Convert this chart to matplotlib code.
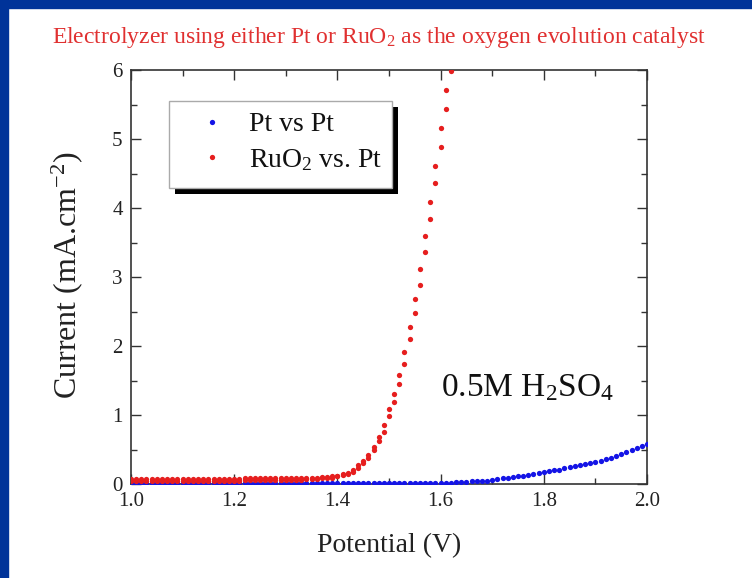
import matplotlib
matplotlib.use('Agg')
import matplotlib.pyplot as plt
from matplotlib.patches import Rectangle
from matplotlib.lines import Line2D
from matplotlib.ticker import MultipleLocator

plt.rcParams['font.family'] = ['Liberation Serif', 'DejaVu Serif']
plt.rcParams['mathtext.fontset'] = 'custom'
plt.rcParams['mathtext.rm'] = 'Liberation Serif'
plt.rcParams['mathtext.it'] = 'Liberation Serif:italic'
plt.rcParams['mathtext.bf'] = 'Liberation Serif:bold'

# ---------------- data ----------------
blue_potential = [
    1.00, 1.01, 1.02, 1.03, 1.04, 1.05, 1.06, 1.07, 1.08, 1.09,
    1.10, 1.11, 1.12, 1.13, 1.14, 1.15, 1.16, 1.17, 1.18, 1.19,
    1.20, 1.21, 1.22, 1.23, 1.24, 1.25, 1.26, 1.27, 1.28, 1.29,
    1.30, 1.31, 1.32, 1.33, 1.34, 1.35, 1.36, 1.37, 1.38, 1.39,
    1.40, 1.41, 1.42, 1.43, 1.44, 1.45, 1.46, 1.47, 1.48, 1.49,
    1.50, 1.51, 1.52, 1.53, 1.54, 1.55, 1.56, 1.57, 1.58, 1.59,
    1.60, 1.61, 1.62, 1.63, 1.64, 1.65, 1.66, 1.67, 1.68, 1.69,
    1.70, 1.71, 1.72, 1.73, 1.74, 1.75, 1.76, 1.77, 1.78, 1.79,
    1.80, 1.81, 1.82, 1.83, 1.84, 1.85, 1.86, 1.87, 1.88, 1.89,
    1.90, 1.91, 1.92, 1.93, 1.94, 1.95, 1.96, 1.97, 1.98, 1.99,
    2.00,
]
blue_current = [
    0.01, 0.01, 0.01, 0.01, 0.01, 0.01, 0.01, 0.01, 0.01, 0.01,
    0.01, 0.01, 0.01, 0.01, 0.01, 0.01, 0.01, 0.01, 0.01, 0.01,
    0.01, 0.01, 0.01, 0.01, 0.01, 0.01, 0.01, 0.01, 0.01, 0.01,
    0.01, 0.01, 0.01, 0.01, 0.01, 0.01, 0.01, 0.01, 0.01, 0.01,
    0.01, 0.01, 0.01, 0.01, 0.01, 0.01, 0.01, 0.01, 0.01, 0.01,
    0.01, 0.01, 0.01, 0.01, 0.01, 0.02, 0.02, 0.02, 0.02, 0.02,
    0.02, 0.02, 0.02, 0.03, 0.03, 0.03, 0.04, 0.04, 0.05, 0.05,
    0.06, 0.07, 0.08, 0.09, 0.10, 0.11, 0.12, 0.13, 0.15, 0.16,
    0.17, 0.19, 0.20, 0.21, 0.23, 0.24, 0.26, 0.27, 0.29, 0.31,
    0.32, 0.34, 0.36, 0.38, 0.40, 0.43, 0.46, 0.49, 0.52, 0.55,
    0.58,
]

red_potential = [
    1.00, 1.01, 1.02, 1.03, 1.04, 1.05, 1.06, 1.07, 1.08, 1.09,
    1.10, 1.11, 1.12, 1.13, 1.14, 1.15, 1.16, 1.17, 1.18, 1.19,
    1.20, 1.21, 1.22, 1.23, 1.24, 1.25, 1.26, 1.27, 1.28, 1.29,
    1.30, 1.31, 1.32, 1.33, 1.34, 1.35, 1.36, 1.37, 1.38, 1.39,
    1.40, 1.41, 1.42, 1.43, 1.44, 1.45, 1.46, 1.47, 1.48, 1.49,
    1.50, 1.51, 1.52, 1.53, 1.54, 1.55, 1.56, 1.57, 1.58, 1.59,
    1.60, 1.61, 1.62,
]
# two readings recorded at each potential step
red_current_a = [
    0.07, 0.07, 0.07, 0.07, 0.07, 0.07, 0.07, 0.07, 0.07, 0.07,
    0.07, 0.07, 0.07, 0.07, 0.07, 0.07, 0.07, 0.07, 0.07, 0.07,
    0.07, 0.07, 0.08, 0.08, 0.08, 0.08, 0.08, 0.08, 0.08, 0.08,
    0.08, 0.08, 0.08, 0.08, 0.09, 0.09, 0.09, 0.10, 0.10, 0.11,
    0.12, 0.14, 0.16, 0.21, 0.27, 0.34, 0.42, 0.54, 0.68, 0.85,
    1.08, 1.31, 1.58, 1.91, 2.28, 2.68, 3.12, 3.59, 4.09, 4.61,
    5.16, 5.71, 6.27,
]
red_current_b = [
    0.05, 0.05, 0.05, 0.05, 0.05, 0.05, 0.05, 0.05, 0.05, 0.05,
    0.05, 0.05, 0.05, 0.05, 0.05, 0.05, 0.05, 0.05, 0.05, 0.05,
    0.05, 0.05, 0.06, 0.06, 0.06, 0.06, 0.06, 0.06, 0.06, 0.06,
    0.06, 0.06, 0.06, 0.06, 0.07, 0.07, 0.07, 0.08, 0.08, 0.09,
    0.11, 0.13, 0.15, 0.18, 0.23, 0.30, 0.38, 0.49, 0.62, 0.76,
    0.98, 1.19, 1.45, 1.74, 2.10, 2.48, 2.89, 3.36, 3.84, 4.36,
    4.88, 5.43, 5.99,
]

series_labels = ['Pt vs Pt', 'RuO$_2$ vs. Pt']
x_ticks = [1.0, 1.2, 1.4, 1.6, 1.8, 2.0]
y_ticks = [0, 1, 2, 3, 4, 5, 6]

BLUE = '#1414e6'
RED = '#e61e1e'

# ---------------- figure ----------------
W, H = 752, 578
fig = plt.figure(figsize=(W / 100, H / 100), dpi=100, facecolor='white')

# slide frame
fig.patches.append(Rectangle((0, 0), 8 / W, 1, transform=fig.transFigure,
                             color='#003399', zorder=0))
fig.patches.append(Rectangle((0, 1 - 8 / H), 1, 8 / H, transform=fig.transFigure,
                             color='#003399', zorder=0))

ax = fig.add_axes([131 / W, 1 - 484 / H, 516 / W, 414 / H])

ax.plot(blue_potential, blue_current, linestyle='none', marker='o', ms=3.8,
        mew=0, color=BLUE, zorder=3)
ax.plot(red_potential + red_potential, red_current_a + red_current_b,
        linestyle='none', marker='o', ms=3.8, mew=0, color=RED, zorder=3)

ax.set_xlim(1.0, 2.0)
ax.set_ylim(0, 6)
ax.set_xticks(x_ticks)
ax.set_xticklabels([f'{v:.1f}' for v in x_ticks])
ax.set_yticks(y_ticks)
ax.xaxis.set_minor_locator(MultipleLocator(0.1))
ax.yaxis.set_minor_locator(MultipleLocator(0.5))
ax.tick_params(which='both', direction='in', top=True, right=True,
               color='#333333', width=1.0)
ax.tick_params(which='major', length=7, labelsize=15, pad=6,
               labelcolor='#222222')
ax.tick_params(which='minor', length=4)
for s in ax.spines.values():
    s.set_linewidth(1.2)
    s.set_color('#333333')

# legend box with solid black shadow
bx0, by0 = (169 - 131) / 516, (484 - 188) / 414
bw, bh = (392 - 169) / 516, (188 - 101) / 414
ax.add_patch(Rectangle((bx0 + 6 / 516, by0 - 6 / 414), bw, bh, transform=ax.transAxes,
                       facecolor='black', edgecolor='none', zorder=4, clip_on=False))
ax.add_patch(Rectangle((bx0, by0), bw, bh, transform=ax.transAxes,
                       facecolor='white', edgecolor='#aaaaaa', lw=1.0, zorder=5,
                       clip_on=False))
handles = [Line2D([], [], linestyle='none', marker='o', ms=3.8, mew=0, color=BLUE),
           Line2D([], [], linestyle='none', marker='o', ms=3.8, mew=0, color=RED)]
leg = ax.legend(handles, series_labels, loc='upper left',
                bbox_to_anchor=((198 - 131) / 516, (484 - 112) / 414),
                frameon=False, fontsize=20, borderpad=0, borderaxespad=0,
                handlelength=1.0, handletextpad=0.83, labelspacing=0.34)
leg.set_zorder(6)
for t in leg.get_texts():
    t.set_color('#111111')

ax.text(1.6, 1.39, '0.5M H$_2$SO$_4$', fontsize=24, va='center', ha='left',
        color='#111111')

fig.text(389 / W, 1 - 546 / H, 'Potential (V)', fontsize=20, ha='center',
         va='center', color='#222222')
fig.text(67 / W, 1 - 275 / H, 'Current (mA.cm$^{-2}$)', fontsize=23, ha='center',
         va='center', rotation=90, color='#222222')
fig.text(379 / W, 1 - 37 / H,
         'Electrolyzer using either Pt or RuO$_2$ as the oxygen evolution catalyst',
         fontsize=17, ha='center', va='center', color='#e03030')

fig.savefig('out.png', dpi=100, facecolor='white')
